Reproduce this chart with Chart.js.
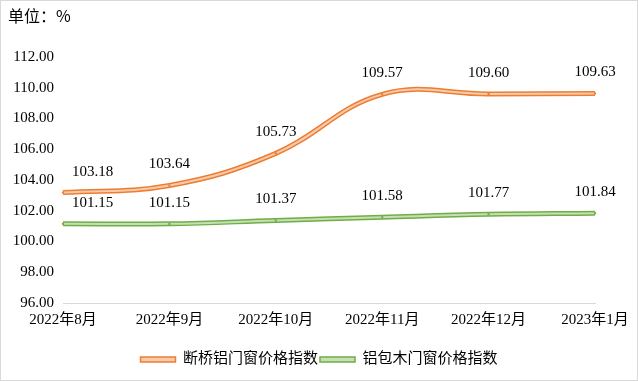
<!DOCTYPE html>
<html><head><meta charset="utf-8">
<script src="https://cdn.jsdelivr.net/npm/chart.js@4/dist/chart.umd.min.js"></script>
<style>html,body{margin:0;padding:0;background:#fff}#wrap{width:638px;height:381px;position:relative}</style>
</head><body><div id="wrap"><canvas id="c"></canvas></div>
<script>
const categories = ['2022年8月','2022年9月','2022年10月','2022年11月','2022年12月','2023年1月'];
const bridgeAlu = [103.18,103.64,105.73,109.57,109.60,109.63];
const aluWood = [101.15,101.15,101.37,101.58,101.77,101.84];
const seriesNames = ['断桥铝门窗价格指数','铝包木门窗价格指数'];
const yTicks = {min:96, max:112, step:2};

const FONT = '"Liberation Serif", "Noto Sans CJK SC", serif';
const orange = '#ED7D31', orangeIn = '#F8CBAD';
const green = '#70AD47', greenIn = '#C5E0B4';

const bgPlugin = {
  id:'bg',
  beforeDraw(chart){
    const c = chart.ctx;
    c.save();
    c.fillStyle='#fff'; c.fillRect(0,0,chart.width,chart.height);
    c.strokeStyle='#d9d9d9'; c.lineWidth=1;
    c.strokeRect(0.5,0.5,chart.width-1,chart.height-1);
    c.fillStyle='#000';
    c.font='16px "Noto Sans CJK SC", sans-serif';
    c.textBaseline='middle'; c.textAlign='left';
    c.fillText('单位：%',8,16);
    c.restore();
  }
};
const labelPlugin = {
  id:'vals',
  afterDatasetsDraw(chart){
    const c = chart.ctx;
    c.save();
    c.font='15px '+FONT; c.fillStyle='#000'; c.textBaseline='middle';
    chart.data.datasets.forEach((ds,i)=>{
      if(!ds.showValues) return;
      const meta = chart.getDatasetMeta(i);
      meta.data.forEach((pt,j)=>{
        const txt = ds.data[j].toFixed(2);
        if(j===0){ c.textAlign='left'; c.fillText(txt, pt.x+9, pt.y-21); }
        else { c.textAlign='center'; c.fillText(txt, pt.x, pt.y-21); }
      });
    });
    c.restore();
  }
};

new Chart(document.getElementById('c'),{
  type:'line',
  data:{
    labels:categories,
    datasets:[
      {data:bridgeAlu, borderColor:orangeIn, borderWidth:2, tension:0.4, pointStyle:'rect', pointRadius:1.5, pointBackgroundColor:orange, pointBorderColor:orange, pointBorderWidth:0, order:0},
      {data:aluWood, borderColor:greenIn, borderWidth:2, tension:0.4, pointStyle:'rect', pointRadius:1.5, pointBackgroundColor:green, pointBorderColor:green, pointBorderWidth:0, order:0},
      {label:seriesNames[0], data:bridgeAlu, borderColor:orange, borderWidth:5, tension:0.4, pointRadius:0, order:1, showValues:true},
      {label:seriesNames[1], data:aluWood, borderColor:green, borderWidth:5, tension:0.4, pointRadius:0, order:1, showValues:true}
    ]
  },
  options:{
    responsive:true, maintainAspectRatio:false, animation:false,
    layout:{padding:{left:0,right:0,top:57,bottom:4}},
    plugins:{
      tooltip:{enabled:false},
      legend:{
        position:'bottom',
        labels:{
          font:{family:FONT,size:15}, color:'#000', boxWidth:35, boxHeight:5, padding:2,
          generateLabels(){
            return [
              {text:seriesNames[0], fillStyle:orangeIn, strokeStyle:orange, lineWidth:1.5, datasetIndex:2},
              {text:seriesNames[1], fillStyle:greenIn, strokeStyle:green, lineWidth:1.5, datasetIndex:3}
            ];
          }
        }
      }
    },
    scales:{
      x:{
        grid:{display:false},
        border:{display:true,color:'#d9d9d9',width:1},
        ticks:{font:{family:FONT,size:15}, color:'#000', padding:0, maxRotation:0, autoSkip:false},
        afterFit(s){ s.height += 21; }
      },
      y:{
        min:yTicks.min, max:yTicks.max,
        grid:{display:false},
        border:{display:false},
        ticks:{stepSize:yTicks.step, font:{family:FONT,size:15}, color:'#000', padding:1,
          callback:v=>Number(v).toFixed(2)},
        afterFit(s){ s.width=63; }
      },
      yRight:{
        position:'right',
        grid:{display:false}, border:{display:false},
        ticks:{display:false},
        afterFit(s){ s.width=43; }
      }
    }
  },
  plugins:[bgPlugin,labelPlugin]
});
</script></body></html>
